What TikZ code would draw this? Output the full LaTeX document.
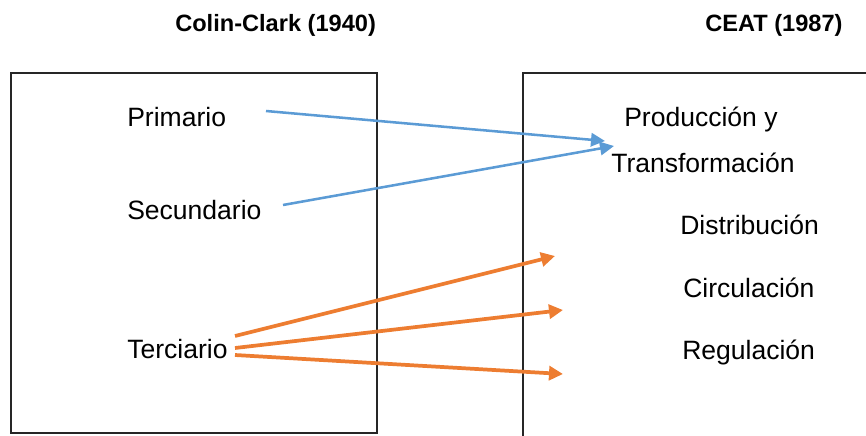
\documentclass[tikz,border=0pt]{standalone}
\usepackage{fontspec}
\setmainfont{Liberation Sans}
\usetikzlibrary{arrows.meta}
\definecolor{blu}{HTML}{5B9BD5}
\definecolor{org}{HTML}{ED7D31}
\begin{document}
\begin{tikzpicture}[x=0.75pt,y=-0.75pt,
  lbl/.style={anchor=base west,inner sep=0pt,font=\fontsize{19.9}{24}\selectfont},
  ttl/.style={anchor=base west,inner sep=0pt,font=\bfseries\fontsize{17.7}{21}\selectfont},
  boxline/.style={draw=black!85,line width=0.8pt},
  barrow/.style={draw=blu,line width=1.9pt,-{Triangle[length=10.5pt,width=10pt]}},
  oarrow/.style={draw=org,line width=2.8pt,-{Triangle[length=10.5pt,width=10.5pt]}}]
\useasboundingbox (0,0) rectangle (866,435);
% boxes
\draw[boxline] (11,73) rectangle (377,433);
\draw[boxline] (867,73) -- (523,73) -- (523,436);
% titles
\node[ttl] (t1) at (175,32) {Colin-Clark (1940)};
\node[ttl] (t2) at (705,32) {CEAT (1987)};
% left labels
\node[lbl] (prim) at (127,126) {Primario};
\node[lbl] (sec) at (127,219) {Secundario};
\node[lbl] (ter) at (127,358) {Terciario};
% right labels
\node[lbl] (prod) at (624,126) {Producción y};
\node[lbl] (trans) at (611,172) {Transformación};
\node[lbl] (dist) at (680,234) {Distribución};
\node[lbl] (circ) at (683,297) {Circulación};
\node[lbl] (reg) at (682,359) {Regulación};
% arrow ends
\coordinate (p0) at (266,111);
\coordinate (p1) at (605,141);
\coordinate (s0) at (283,205);
\coordinate (s1) at (614,146);
\coordinate (o0) at (235,336);
\coordinate (o1) at (555,256);
\coordinate (q0) at (235,348);
\coordinate (q1) at (563,310);
\coordinate (r0) at (235,355);
\coordinate (r1) at (563,374);
\draw[barrow] (p0) -- (p1);
\draw[barrow] (s0) -- (s1);
\draw[oarrow] (o0) -- (o1);
\draw[oarrow] (q0) -- (q1);
\draw[oarrow] (r0) -- (r1);
\end{tikzpicture}
\end{document}
